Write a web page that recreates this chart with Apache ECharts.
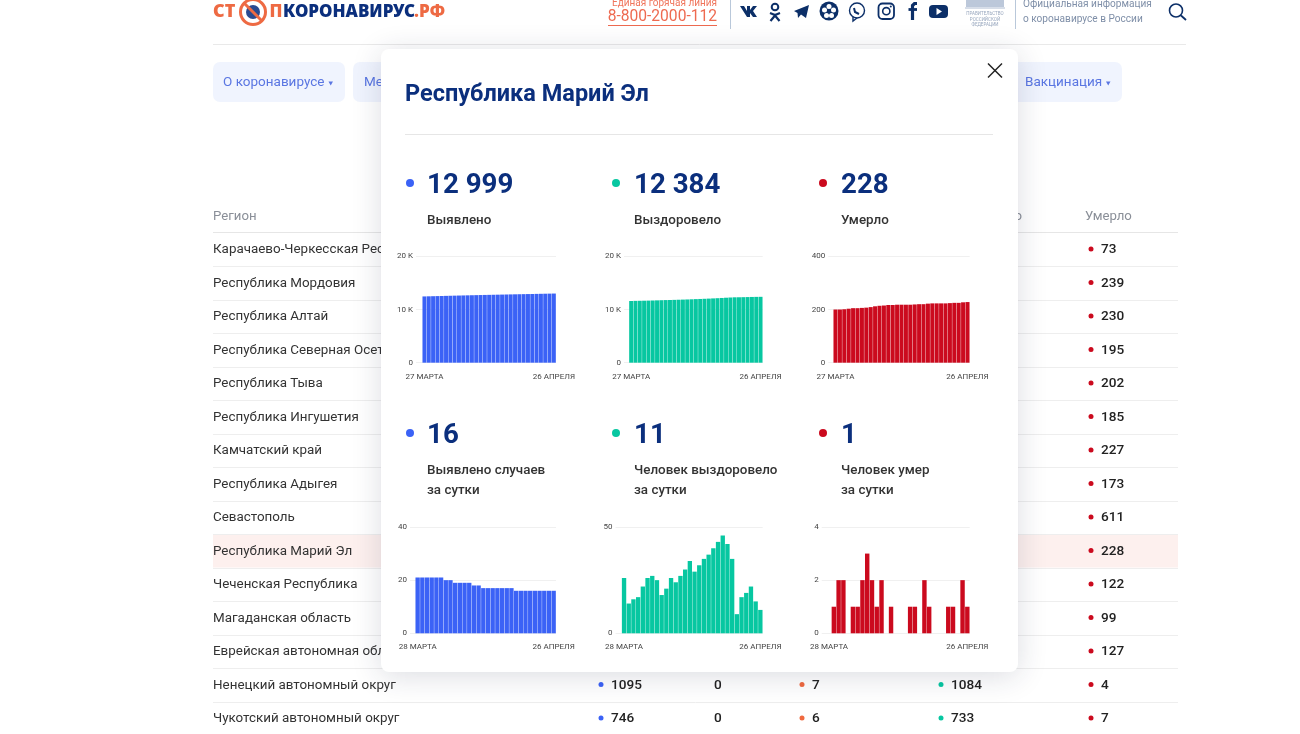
<!DOCTYPE html>
<html>
<head>
<meta charset="utf-8">
<title>Республика Марий Эл</title>
<style>
  html, body { margin: 0; padding: 0; background: #fff; }
  #main { width: 1300px; height: 734px; }
</style>
<script src="https://cdn.jsdelivr.net/npm/echarts@6/dist/echarts.min.js"></script>
</head>
<body>
<div id="main"></div>
<script>
// cumulative, 27 March - 26 April
const casesTotal = [12458, 12479, 12500, 12521, 12542, 12563, 12584, 12604, 12624, 12643, 12662, 12681, 12700, 12718, 12736, 12753, 12770, 12787, 12804, 12821, 12838, 12855, 12871, 12887, 12903, 12919, 12935, 12951, 12967, 12983, 12999]
const recoveredTotal = [11599, 11625, 11639, 11655, 11672, 11694, 11720, 11747, 11772, 11790, 11811, 11837, 11861, 11888, 11918, 11952, 11981, 12013, 12048, 12085, 12125, 12168, 12214, 12256, 12291, 12300, 12317, 12336, 12358, 12373, 12384]
const deathsTotal = [200, 200, 201, 203, 205, 205, 206, 207, 209, 212, 214, 215, 217, 217, 218, 218, 218, 218, 219, 220, 220, 222, 223, 223, 223, 223, 224, 225, 225, 227, 228]
// per day, 28 March - 26 April
const casesDaily = [21, 21, 21, 21, 21, 21, 20, 20, 19, 19, 19, 19, 18, 18, 17, 17, 17, 17, 17, 17, 17, 16, 16, 16, 16, 16, 16, 16, 16, 16]
const recoveredDaily = [26, 14, 16, 17, 22, 26, 27, 25, 18, 21, 26, 24, 27, 30, 34, 29, 32, 35, 37, 40, 43, 46, 42, 35, 9, 17, 19, 22, 15, 11]
const deathsDaily = [0, 1, 2, 2, 0, 1, 1, 2, 3, 2, 1, 2, 0, 1, 0, 0, 0, 1, 1, 0, 2, 1, 0, 0, 0, 1, 1, 0, 2, 1]

const totalDayLabels = ['27 МАРТА', '26 АПРЕЛЯ']
const dailyDayLabels = ['28 МАРТА', '26 АПРЕЛЯ']

const statNumbers = ['12 999', '12 384', '228', '16', '11', '1']
const statCaptions = [['Выявлено'], ['Выздоровело'], ['Умерло'], ['Выявлено случаев', 'за сутки'], ['Человек выздоровело', 'за сутки'], ['Человек умер', 'за сутки']]

const regionNames = ['Карачаево-Черкесская Республика', 'Республика Мордовия', 'Республика Алтай', 'Республика Северная Осетия', 'Республика Тыва', 'Республика Ингушетия', 'Камчатский край', 'Республика Адыгея', 'Севастополь', 'Республика Марий Эл', 'Чеченская Республика', 'Магаданская область', 'Еврейская автономная область', 'Ненецкий автономный округ', 'Чукотский автономный округ']
const regionDeaths = [73, 239, 230, 195, 202, 185, 227, 173, 611, 228, 122, 99, 127, 4, 7]
const lastRowsCases = [1095, 746]
const lastRowsToday = [0, 0]
const lastRowsActive = [7, 6]
const lastRowsRecovered = [1084, 733]

const BLUE = '#3b62f6'
const GREEN = '#07c7a1'
const RED = '#cb0a1e'
const NAVY = '#0b2f7d'
const ICON = '#0c2f68'
const FONT = 'Roboto'

const charts = [
    {data: casesTotal, labels: totalDayLabels, color: BLUE, max: 20000, interval: 10000, left: 416, right: 556, barLeft: 422.3, top: 256.3, bottom: 362.7},
    {data: recoveredTotal, labels: totalDayLabels, color: GREEN, max: 20000, interval: 10000, left: 624, right: 762.7, barLeft: 629, top: 256.3, bottom: 362.7},
    {data: deathsTotal, labels: totalDayLabels, color: RED, max: 400, interval: 200, left: 828.3, right: 969.7, barLeft: 833.3, top: 256.3, bottom: 362.7},
    {data: casesDaily, labels: dailyDayLabels, color: BLUE, max: 40, interval: 20, left: 410, right: 556, barLeft: 415.3, top: 527, bottom: 633.3},
    {data: recoveredDaily, labels: dailyDayLabels, color: GREEN, max: 50, interval: 50, left: 615.5, right: 762.7, barLeft: 621.7, top: 527, bottom: 633.3},
    {data: deathsDaily, labels: dailyDayLabels, color: RED, max: 4, interval: 2, left: 821.7, right: 969.7, barLeft: 826.7, top: 527, bottom: 633.3}
]

// y + 1: middle of the line box sits a bit above the visual middle of the glyphs
function text(x, y, str, font, fill, z, align) {
    return {
        type: 'text', silent: true, z: z || 0,
        style: {x: x, y: y + 1, text: str, font: font, fill: fill, textAlign: align || 'left', textVerticalAlign: 'middle', align: align || 'left', verticalAlign: 'middle'}
    }
}

function rect(x, y, w, h, fill, r, z) {
    return {type: 'rect', silent: true, z: z || 0, shape: {x: x, y: y, width: w, height: h, r: r || 0}, style: {fill: fill}}
}

function line(x1, y1, x2, y2, stroke, width, z) {
    return {type: 'line', silent: true, z: z || 0, shape: {x1: x1, y1: y1, x2: x2, y2: y2}, style: {stroke: stroke, lineWidth: width || 1}}
}

function dot(x, y, r, fill, z) {
    return {type: 'circle', silent: true, z: z || 0, shape: {cx: x, cy: y, r: r}, style: {fill: fill}}
}

function ring(x, y, r, stroke, width, z) {
    return {type: 'circle', silent: true, z: z || 0, shape: {cx: x, cy: y, r: r}, style: {fill: 'none', stroke: stroke, lineWidth: width}}
}

function poly(points, fill, z) {
    return {type: 'polygon', silent: true, z: z || 0, shape: {points: points}, style: {fill: fill}}
}

function polyline(points, stroke, width, z) {
    return {type: 'polyline', silent: true, z: z || 0, shape: {points: points}, style: {fill: 'none', stroke: stroke, lineWidth: width}}
}

// site header behind the popup
function pageHeader() {
    const logoFont = '900 17px "Noto Sans"'
    const els = [
        text(213, 11, 'СТ', '900 18px "Noto Sans"', '#ee6a43'),
        ring(253, 12, 12.5, '#ee6a43', 3),
        dot(253, 12, 7, '#2a4a90'),
        line(244, 3, 262, 21, '#ee6a43', 3),
        text(269.5, 11, 'П', logoFont, '#ee6a43'),
        text(283, 11, 'КОРОНАВИРУС', logoFont, NAVY),
        text(414, 11, '.РФ', logoFont, '#ee6a43'),
        text(717, 2.5, 'Единая горячая линия', '10px ' + FONT, '#f0755c', 0, 'right'),
        text(717, 16.5, '8-800-2000-112', '15.6px ' + FONT, '#ee6a50', 0, 'right'),
        line(608, 25.5, 717, 25.5, '#ee6a50', 1),
        line(730.5, 0, 730.5, 29, '#b9c8da', 1),
        line(1015.5, 0, 1015.5, 29, '#b9c8da', 1),
        line(213, 44.5, 1186, 44.5, '#e9e9e9', 1),
        // social icons
        poly([[740, 6], [744, 6], [747, 11], [747, 6], [750, 6], [750, 10], [753, 6], [757, 6], [753, 11], [757, 17], [753, 17], [750, 13], [750, 17], [747, 17]], ICON),
        ring(775, 7, 3.3, ICON, 2),
        polyline([[770, 13], [775, 15], [780, 13]], ICON, 2.2),
        polyline([[770.5, 21], [775, 15.5], [779.5, 21]], ICON, 2.2),
        poly([[794, 11], [809, 5], [806, 18], [801, 14.5], [798, 18], [797.5, 13]], ICON),
        dot(829, 11, 9.5, ICON),
        dot(829, 6.5, 2.5, '#fff'), dot(833.5, 10, 2.5, '#fff'), dot(831.5, 15.5, 2.5, '#fff'), dot(826.5, 15.5, 2.5, '#fff'), dot(824.5, 10, 2.5, '#fff'),
        ring(857, 10.5, 7.5, ICON, 1.4),
        polyline([[853, 17], [853, 21], [857, 18]], ICON, 1.4),
        polyline([[854, 8], [855, 12], [859, 14]], ICON, 2),
        {type: 'rect', silent: true, shape: {x: 878.5, y: 3.5, width: 15.5, height: 15.5, r: 4}, style: {fill: 'none', stroke: ICON, lineWidth: 1.8}},
        ring(886.3, 11.2, 3.6, ICON, 1.6),
        dot(890.8, 6.6, 1, ICON),
        polyline([[917, 3.5], [914.5, 3.5], [912.5, 5.5], [912.5, 20]], ICON, 3.2),
        line(908.5, 9.5, 917, 9.5, ICON, 2.8),
        rect(929, 5, 19, 13, ICON, 4),
        poly([[936.5, 8], [942, 11.5], [936.5, 15]], '#fff'),
        // government block
        rect(966, 0, 38, 7, '#bcc8da'),
        line(965, 8, 1005, 8, '#aebcd2', 1),
        text(985, 13, 'ПРАВИТЕЛЬСТВО', '4.5px ' + FONT, '#98a7be', 0, 'center'),
        text(985, 18.5, 'РОССИЙСКОЙ', '4.5px ' + FONT, '#98a7be', 0, 'center'),
        text(985, 24, 'ФЕДЕРАЦИИ', '4.5px ' + FONT, '#98a7be', 0, 'center'),
        text(1023, 3.5, 'Официальная информация', '10.1px ' + FONT, '#7f8fa8'),
        text(1023, 18.5, 'о коронавирусе в России', '10.1px ' + FONT, '#7f8fa8'),
        ring(1176, 10.5, 6.5, ICON, 1.6),
        line(1181, 15.5, 1186, 20, ICON, 1.8),
        // nav buttons
        rect(213, 62, 132, 40, '#f0f4fe', 7),
        text(223, 81.7, 'О коронавирусе', '13.5px ' + FONT, '#5a76e2'),
        poly([[328.5, 81.5], [333, 81.5], [330.7, 85.5]], '#5a76e2'),
        rect(353, 62, 60, 40, '#f0f4fe', 7),
        text(364, 81.7, 'Ме', '13.5px ' + FONT, '#5a76e2'),
        rect(990, 62, 132, 40, '#f0f4fe', 7),
        text(1025, 81.7, 'Вакцинация', '13.5px ' + FONT, '#5a76e2'),
        poly([[1106, 81.5], [1110.5, 81.5], [1108.2, 85.5]], '#5a76e2')
    ]
    return els
}

function pageTable() {
    const rowFont = '13.4px ' + FONT
    const numFont = '500 13.6px ' + FONT
    const els = [
        text(213, 215.5, 'Регион', '13.2px ' + FONT, '#8a8f98'),
        text(1085, 215.5, 'Умерло', '13.2px ' + FONT, '#8a8f98'),
        text(1022, 215.5, 'о', '13.2px ' + FONT, '#8a8f98', 0, 'right'),
        line(213, 232.5, 1178, 232.5, '#e6e6e6', 1),
        rect(213, 534, 965, 33.5, '#fdf0ee')
    ]
    regionNames.forEach(function (name, i) {
        const y = 249 + i * 33.5
        els.push(text(213, y, name, rowFont, '#333'))
        els.push(dot(1091, y, 2.5, RED))
        els.push(text(1101, y, String(regionDeaths[i]), numFont, '#222'))
        els.push(line(213, Math.round(y + 17) + 0.5, 1178, Math.round(y + 17) + 0.5, '#eeeeee', 1))
    })
    lastRowsCases.forEach(function (val, i) {
        const y = 684.5 + i * 33.5
        els.push(dot(601, y, 2.5, BLUE))
        els.push(text(611, y, String(val), numFont, '#222'))
        els.push(text(714, y, String(lastRowsToday[i]), numFont, '#222'))
        els.push(dot(802, y, 2.5, '#f0693f'))
        els.push(text(812, y, String(lastRowsActive[i]), numFont, '#222'))
        els.push(dot(941, y, 2.5, GREEN))
        els.push(text(951, y, String(lastRowsRecovered[i]), numFont, '#222'))
    })
    return els
}

function popup() {
    const els = [
        {
            type: 'rect', silent: true, z: 1,
            shape: {x: 381, y: 49, width: 637, height: 623, r: 8},
            style: {fill: '#fff', shadowBlur: 30, shadowColor: 'rgba(30,40,70,0.16)', shadowOffsetY: 4}
        },
        text(405, 94.5, 'Республика Марий Эл', 'bold 23.5px ' + FONT, NAVY, 2),
        line(405, 134.5, 993, 134.5, '#e6e6e6', 1, 2),
        line(988, 63.5, 1002, 77.5, '#222', 1.5, 2),
        line(1002, 63.5, 988, 77.5, '#222', 1.5, 2)
    ]
    const statX = [427, 634, 841]
    const dotX = [410, 616, 823]
    const statColors = [BLUE, GREEN, RED]
    statNumbers.forEach(function (num, i) {
        const col = i % 3
        const y = i < 3 ? 183 : 433
        els.push(dot(dotX[col], y, 4, statColors[col], 2))
        els.push(text(statX[col], y + 2, num, 'bold 27.7px ' + FONT, NAVY, 2))
        statCaptions[i].forEach(function (cap, k) {
            els.push(text(statX[col], (i < 3 ? 219.5 : 470) + k * 20, cap, '500 13.4px ' + FONT, '#333', 2))
        })
    })
    return els
}

const grids = []
const xAxes = []
const yAxes = []
const series = []

charts.forEach(function (c, i) {
    const n = c.data.length
    const step = (c.right - c.barLeft) / n
    grids.push({left: c.left, width: c.right - c.left, top: c.top, height: c.bottom - c.top})
    xAxes.push({
        type: 'value', gridIndex: i, z: 3,
        min: -0.5 - (c.barLeft - c.left) / step,
        max: n - 0.5,
        axisLine: {show: false},
        axisTick: {show: false},
        splitLine: {show: false},
        axisLabel: {
            customValues: [0, n - 1],
            margin: 10,
            fontSize: 8,
            fontFamily: FONT,
            color: '#444',
            formatter: function (v) {
                return v === 0 ? c.labels[0] : c.labels[1]
            }
        }
    })
    yAxes.push({
        type: 'value', gridIndex: i, z: 3,
        min: 0, max: c.max, interval: c.interval,
        axisLine: {show: false},
        axisTick: {show: false},
        splitLine: {lineStyle: {color: '#f0f0f0', width: 1}},
        axisLabel: {
            margin: 3,
            fontSize: 8,
            fontFamily: FONT,
            color: '#444',
            formatter: function (v) {
                return v >= 1000 ? (v / 1000) + ' K' : String(v)
            }
        }
    })
    series.push({
        type: 'bar', xAxisIndex: i, yAxisIndex: i, z: 4,
        barWidth: step - 0.35,
        itemStyle: {color: c.color},
        silent: true,
        animation: false,
        data: c.data.map(function (v, k) { return [k, v] })
    })
})

const chart = echarts.init(document.getElementById('main'))
chart.setOption({
    animation: false,
    backgroundColor: '#fff',
    textStyle: {fontFamily: FONT},
    grid: grids,
    xAxis: xAxes,
    yAxis: yAxes,
    series: series,
    graphic: {elements: pageHeader().concat(pageTable(), popup())}
})
</script>
</body>
</html>
